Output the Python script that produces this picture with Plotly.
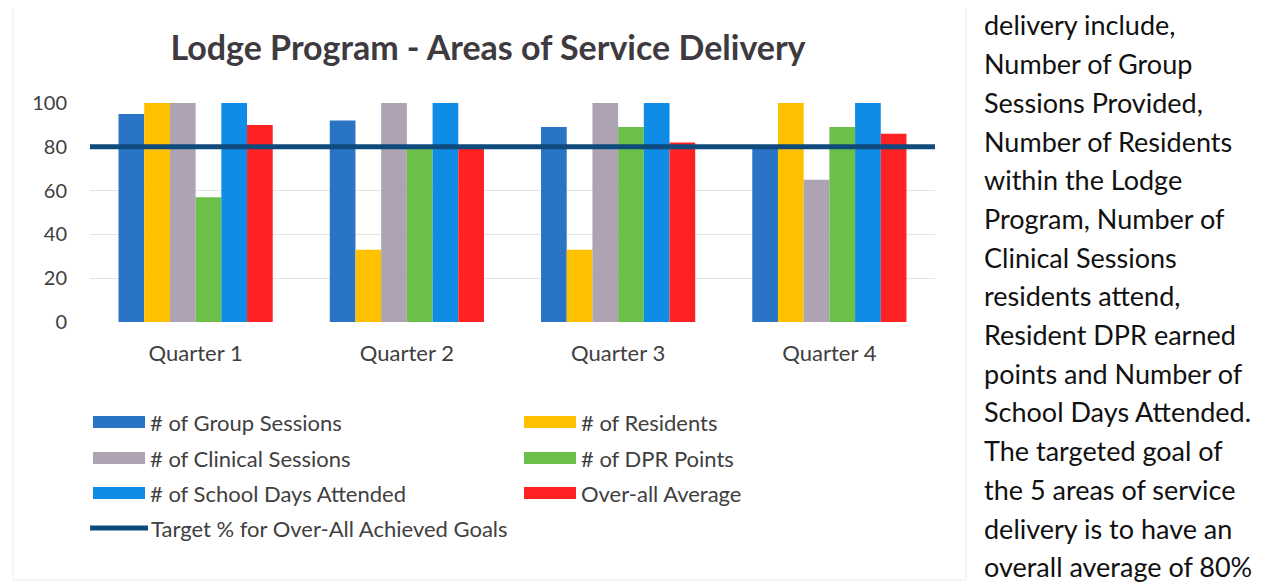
"""
Lodge Program - Areas of Service Delivery
Quarterly bar chart with the 80% target line and the side note text
"""

import plotly.graph_objects as go

# Chart data
quarters = ['Quarter 1', 'Quarter 2', 'Quarter 3', 'Quarter 4']
group_sessions = [95, 92, 89, 79]
residents = [100, 33, 33, 100]
clinical_sessions = [100, 100, 100, 65]
dpr_points = [57, 79, 89, 89]
school_days = [100, 100, 100, 100]
overall_average = [90, 79, 82, 86]
target = 80

series_names = ['# of Group Sessions', '# of Residents', '# of Clinical Sessions',
                '# of DPR Points', '# of School Days Attended', 'Over-all Average']
series_colors = ['#2a74c6', '#ffc000', '#ada3b2', '#6cc04a', '#0f8ce6', '#ff2222']
target_name = 'Target % for Over-All Achieved Goals'
target_color = '#0f4a7c'

side_text = [
    'delivery include,',
    'Number of Group',
    'Sessions Provided,',
    'Number of Residents',
    'within the Lodge',
    'Program, Number of',
    'Clinical Sessions',
    'residents attend,',
    'Resident DPR earned',
    'points and Number of',
    'School Days Attended.',
    'The targeted goal of',
    'the 5 areas of service',
    'delivery is to have an',
    'overall average of 80%',
]

# Page geometry (pixels); the page body adds an 8px margin
W, H = 1267, 587
OFF = 8
PLOT_L, PLOT_R, PLOT_T, PLOT_B = 90, 935, 103, 322
FONT = 'Lato'


def px_x(x):
    return (x - PLOT_L) / (PLOT_R - PLOT_L)


def px_y(y):
    return (PLOT_B - y) / (PLOT_B - PLOT_T)


fig = go.Figure()

all_values = [group_sessions, residents, clinical_sessions, dpr_points,
              school_days, overall_average]
for name, color, vals in zip(series_names, series_colors, all_values):
    fig.add_trace(go.Bar(x=quarters, y=vals, name=name, marker_color=color,
                         marker_line_width=0, showlegend=False))

# Target line across the whole plot area on a hidden overlay axis
fig.add_trace(go.Scatter(x=[0, 1], y=[target, target], xaxis='x2', mode='lines',
                         line=dict(color=target_color, width=5),
                         name=target_name, showlegend=False))

# Legend drawn by hand: two columns, wide swatches
shapes = []
annotations = []
legend_rows = [422, 458, 493, 528]
legend_cols = [93, 524]
for i, (name, color) in enumerate(zip(series_names, series_colors)):
    cx = legend_cols[i % 2]
    cy = legend_rows[i // 2]
    shapes.append(dict(type='rect', xref='paper', yref='paper',
                       x0=px_x(cx), x1=px_x(cx + 52),
                       y0=px_y(cy + 6), y1=px_y(cy - 6),
                       fillcolor=color, line_width=0))
    annotations.append(dict(text=name, xref='paper', yref='paper',
                            x=px_x(cx + 55), y=px_y(cy), xanchor='left',
                            yanchor='middle', showarrow=False,
                            font=dict(family=FONT, size=22, color='#404040')))

cy = legend_rows[3]
shapes.append(dict(type='line', xref='paper', yref='paper',
                   x0=px_x(90), x1=px_x(148), y0=px_y(cy), y1=px_y(cy),
                   line=dict(color=target_color, width=5)))
annotations.append(dict(text=target_name, xref='paper', yref='paper',
                        x=px_x(149), y=px_y(cy), xanchor='left', yanchor='middle',
                        showarrow=False,
                        font=dict(family=FONT, size=22, color='#404040')))

# Side note text
for i, line in enumerate(side_text):
    annotations.append(dict(text=line, xref='paper', yref='paper',
                            x=px_x(983), y=px_y(25 + i * 38.7), xanchor='left',
                            yanchor='middle', showarrow=False, borderpad=0,
                            font=dict(family=FONT, size=27, color='#111111')))

# faint scanned chart border
shapes.append(dict(type='rect', xref='paper', yref='paper',
                   x0=px_x(13), x1=px_x(966), y0=px_y(580), y1=px_y(3),
                   line=dict(color='#eeeeee', width=1), layer='below'))

fig.update_layout(
    width=W - OFF, height=H - OFF,
    margin=dict(l=PLOT_L - OFF, r=W - PLOT_R, t=PLOT_T - OFF, b=H - PLOT_B),
    paper_bgcolor='white', plot_bgcolor='white',
    title=dict(text='<b>Lodge Program - Areas of Service Delivery</b>',
               x=(488 - OFF) / (W - OFF), xanchor='center', xref='container',
               y=1 - (48 - OFF) / (H - OFF), yanchor='middle', yref='container',
               font=dict(family=FONT, size=34, color='#3d3a40')),
    barmode='group', bargap=0.27, bargroupgap=0,
    xaxis=dict(showgrid=False, showline=False, ticks='',
               tickfont=dict(family=FONT, size=22, color='#404040'),
               ticklabelstandoff=16),
    xaxis2=dict(overlaying='x', range=[0, 1], visible=False),
    yaxis=dict(range=[0, 100], dtick=20, showgrid=True, gridcolor='#e4e4e4',
               gridwidth=1, zeroline=False, showline=False,
               tickfont=dict(family=FONT, size=20, color='#404040'),
               ticklabelstandoff=22),
    shapes=shapes,
    annotations=annotations,
    showlegend=False,
)

fig.write_html('out.html')
